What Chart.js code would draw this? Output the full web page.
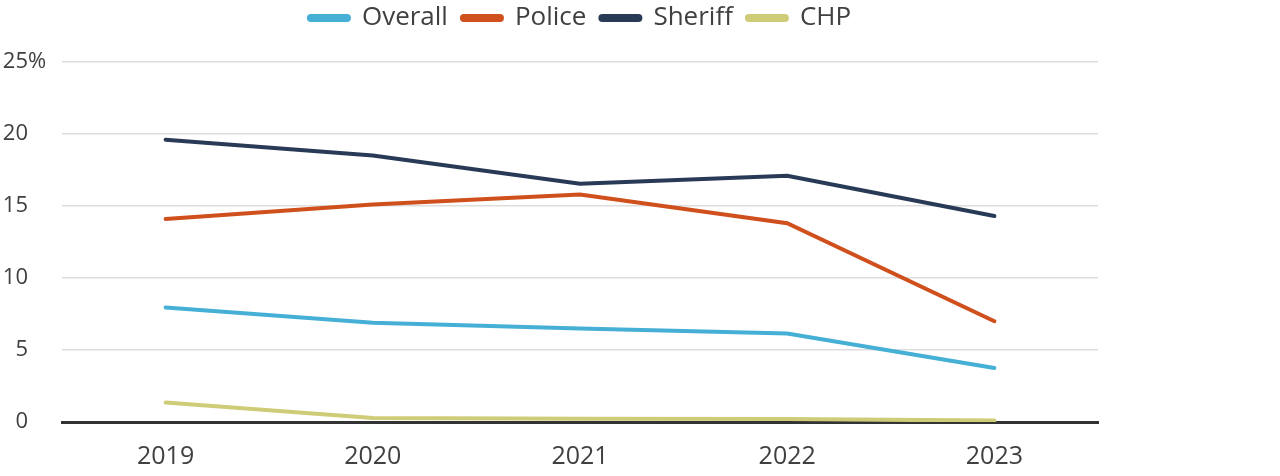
<!DOCTYPE html>
<html lang="en">
<head>
  <meta charset="UTF-8">
  <title>Rates by agency type</title>
  <script src="https://cdn.jsdelivr.net/npm/chart.js"></script>
  <style>
    html, body { margin: 0; padding: 0; background: #fff; }
    #wrap { width: 1280px; height: 476px; }
  </style>
</head>
<body>
<div id="wrap"><canvas id="lineChart"></canvas></div>
<script>
  // values (percent)
  const years   = ['2019', '2020', '2021', '2022', '2023'];
  const overall = [7.95, 6.9, 6.5, 6.15, 3.75];
  const police  = [14.1, 15.1, 15.8, 13.8, 7.0];
  const sheriff = [19.6, 18.5, 16.55, 17.1, 14.3];
  const chp     = [1.35, 0.28, 0.22, 0.2, 0.1];
  const yTicks  = [0, 5, 10, 15, 20, 25];

  const textColor = '#404040';
  const fontFamily = '"Open Sans", Lato, sans-serif';
  Chart.defaults.font.family = fontFamily;
  Chart.defaults.color = textColor;

  function series(label, data, color) {
    return {
      label: label,
      data: data,
      borderColor: color,
      backgroundColor: color,
      borderWidth: 4,
      borderCapStyle: 'round',
      pointRadius: 0,
      pointHoverRadius: 0,
      tension: 0,
      fill: false
    };
  }

  // extra room under the legend, and centre it over the plot area
  const legendSpacing = {
    id: 'legendSpacing',
    beforeInit(chart) {
      const fit = chart.legend.fit;
      chart.legend.fit = function () {
        fit.bind(chart.legend)();
        this.height += 21;
      };
    },
    afterLayout(chart) {
      chart.legend.left += 62;
    }
  };

  // the "%" hangs after the top label, numbers stay right aligned
  const percentSign = {
    id: 'percentSign',
    afterDraw(chart) {
      const y = chart.scales.y;
      const ctx = chart.ctx;
      const top = y.getPixelForValue(yTicks[yTicks.length - 1]);
      ctx.save();
      ctx.font = '22px ' + fontFamily;
      ctx.fillStyle = textColor;
      ctx.textAlign = 'left';
      ctx.textBaseline = 'middle';
      ctx.fillText('%', y.right - y.options.ticks.padding, top);
      ctx.restore();
    }
  };

  new Chart(document.getElementById('lineChart'), {
    type: 'line',
    data: {
      labels: years,
      datasets: [
        series('Overall', overall, '#45afd5'),
        series('Police', police, '#cf501c'),
        series('Sheriff', sheriff, '#283a56'),
        series('CHP', chp, '#cfcc78')
      ]
    },
    options: {
      responsive: true,
      maintainAspectRatio: false,
      animation: false,
      layout: { padding: { left: 0, right: 182, top: -9, bottom: 0 } },
      plugins: {
        tooltip: { enabled: false },
        legend: {
          position: 'top',
          labels: {
            boxWidth: 40,
            boxHeight: 4,
            useBorderRadius: true,
            borderRadius: 2,
            padding: 14,
            color: textColor,
            font: { size: 26, lineHeight: 1.0 }
          }
        }
      },
      scales: {
        x: {
          offset: true,
          afterFit(scale) { scale.height = 54; },
          grid: { display: false, drawTicks: false },
          border: { display: true, color: '#333333', width: 3 },
          ticks: { padding: 20, color: textColor, font: { size: 25 } }
        },
        y: {
          min: 0,
          max: 25,
          afterFit(scale) { scale.width = 62; },
          afterBuildTicks(scale) { scale.ticks = yTicks.map(v => ({ value: v })); },
          grid: { color: '#dddddd', lineWidth: 1.5, drawTicks: false },
          border: { display: false },
          ticks: { padding: 34, color: textColor, font: { size: 22 } }
        }
      }
    },
    plugins: [legendSpacing, percentSign]
  });
</script>
</body>
</html>
